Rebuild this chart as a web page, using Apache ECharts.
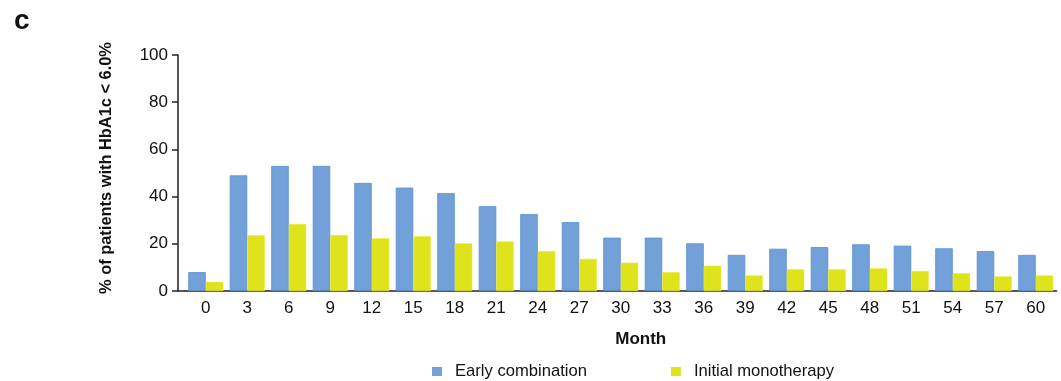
<!DOCTYPE html>
<html>
<head>
<meta charset="utf-8">
<script src="https://cdn.jsdelivr.net/npm/echarts@6/dist/echarts.min.js"></script>
<style>
  html, body { margin: 0; padding: 0; background: #ffffff; }
  #chart { width: 1061px; height: 381px; }
</style>
</head>
<body>
<div id="chart"></div>
<script>
// Months of follow-up
const months = ['0', '3', '6', '9', '12', '15', '18', '21', '24', '27', '30',
                '33', '36', '39', '42', '45', '48', '51', '54', '57', '60'];

// % of patients with HbA1c < 6.0%
const earlyCombination = [8, 49, 53, 53, 45.8, 43.8, 41.5, 36, 32.6, 29.2, 22.6,
                          22.6, 20.2, 15.3, 17.9, 18.6, 19.8, 19.2, 18.1, 16.9, 15.3];
const initialMonotherapy = [3.9, 23.6, 28.4, 23.7, 22.3, 23.2, 20.2, 21, 16.9, 13.6, 12,
                            8, 10.7, 6.6, 9.2, 9.2, 9.6, 8.5, 7.5, 6.2, 6.6];

const yTicks = [0, 20, 40, 60, 80, 100];

const FONT = 'Liberation Sans, Arial, sans-serif';
const chart = echarts.init(document.getElementById('chart'), null, { renderer: 'canvas' });

chart.setOption({
  animation: false,
  backgroundColor: '#ffffff',
  textStyle: { fontFamily: FONT },
  title: {
    text: 'c',
    left: 9,
    top: 2,
    textStyle: { fontFamily: FONT, fontSize: 28, fontWeight: 'bold', color: '#111' }
  },
  legend: {
    left: 427,
    top: 358,
    itemWidth: 10,
    itemHeight: 9,
    itemGap: 84,
    icon: 'rect',
    itemStyle: { borderWidth: 0 },
    textStyle: { fontFamily: FONT, fontSize: 16.6, color: '#111', padding: [0, 0, 0, 8] },
    data: ['Early combination', 'Initial monotherapy']
  },
  grid: { left: 185, top: 55, width: 871.5, height: 236, containLabel: false },
  xAxis: {
    type: 'category',
    data: months,
    name: 'Month',
    nameLocation: 'middle',
    nameGap: 40,
    nameTextStyle: { fontFamily: FONT, fontSize: 17, fontWeight: 'bold', color: '#111', padding: [0, 0, 0, 40] },
    axisLine: { lineStyle: { color: '#222', width: 1.5 } },
    axisTick: { alignWithLabel: true, length: 6, lineStyle: { color: '#222', width: 1.5 } },
    axisLabel: { fontFamily: FONT, fontSize: 17, color: '#111', margin: 9 }
  },
  yAxis: {
    type: 'value',
    min: 0,
    max: 100,
    interval: 20,
    offset: 7,
    name: '% of patients with HbA1c < 6.0%',
    nameLocation: 'middle',
    nameRotate: 90,
    nameGap: 64,
    nameTextStyle: { fontFamily: FONT, fontSize: 16.4, fontWeight: 'bold', color: '#111', padding: [0, 0, 0, 10] },
    axisLine: { show: true, lineStyle: { color: '#222', width: 1.5 } },
    axisTick: { show: true, length: 6, lineStyle: { color: '#222', width: 1.5 } },
    axisLabel: {
      fontFamily: FONT, fontSize: 17, color: '#111', margin: 10,
      formatter: v => (yTicks.indexOf(v) >= 0 ? String(v) : '')
    },
    splitLine: { show: false }
  },
  series: [
    {
      name: 'Early combination',
      type: 'bar',
      data: earlyCombination,
      barWidth: 17.5,
      barGap: '0%',
      itemStyle: { color: '#72a0d8', borderColor: '#5b8fd1', borderWidth: 0.8 }
    },
    {
      name: 'Initial monotherapy',
      type: 'bar',
      data: initialMonotherapy,
      barWidth: 17.5,
      itemStyle: { color: '#dfe31c', borderColor: '#e8ec3a', borderWidth: 0.5 }
    }
  ],
  graphic: [
    {
      // joins the offset y axis to the x axis baseline
      type: 'line',
      shape: { x1: 178, y1: 291, x2: 185, y2: 291 },
      style: { stroke: '#222', lineWidth: 1.5 }
    }
  ]
});
</script>
</body>
</html>
